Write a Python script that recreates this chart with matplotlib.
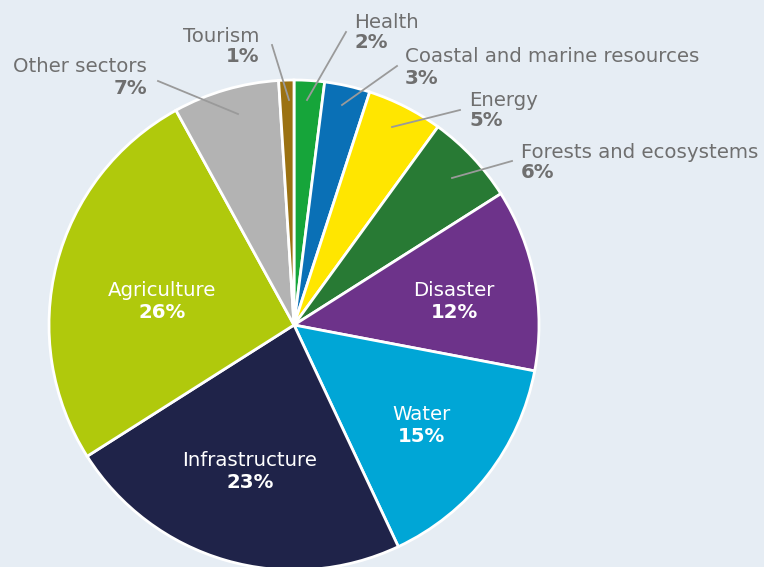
import matplotlib.pyplot as plt

# Share of adaptation finance by sector (%), clockwise from 12 o'clock
sectors = ['Health', 'Coastal and marine resources', 'Energy', 'Forests and ecosystems',
           'Disaster', 'Water', 'Infrastructure', 'Agriculture', 'Other sectors', 'Tourism']
shares = [2, 3, 5, 6, 12, 15, 23, 26, 7, 1]
colours = ['#16a53a', '#0a70b6', '#ffe600', '#287a34', '#6d338a',
           '#00a6d6', '#1f2349', '#b0c90c', '#b3b3b3', '#9b7212']

BG = '#e6edf4'
GREY_TXT = '#6f6f6f'
W, H = 764, 567
FS = 14.2

plt.rcParams['font.family'] = ['DejaVu Sans']

fig = plt.figure(figsize=(W / 100, H / 100), dpi=100)
fig.patch.set_facecolor(BG)
ax = fig.add_axes([0, 0, 1, 1])
ax.set_facecolor(BG)

cx, cy, r = 294, H - 325, 245
ax.pie(shares, colors=colours, startangle=90, counterclock=False,
       center=(cx, cy), radius=r, frame=True,
       wedgeprops=dict(edgecolor='white', linewidth=2))
ax.set_xlim(0, W)
ax.set_ylim(0, H)
ax.set_aspect('equal')
ax.axis('off')

# labels inside the big wedges (text x, y in pixels from top-left)
inside = {
    'Disaster': (454, 291),
    'Water': (421, 415),
    'Infrastructure': (250, 461),
    'Agriculture': (162, 290),
}
# outside labels: anchor, alignment, leader line start and end
outside = {
    'Tourism': ((259, 36), 'right', (272, 45), (289, 100)),
    'Health': ((354, 22), 'left', (346, 32), (307, 100)),
    'Coastal and marine resources': ((405, 57), 'left', (397, 66), (342, 105)),
    'Energy': ((469, 100), 'left', (460, 110), (392, 127)),
    'Forests and ecosystems': ((521, 152), 'left', (512, 161), (452, 178)),
    'Other sectors': ((147, 67), 'right', (158, 81), (238, 114)),
}

for name, share in zip(sectors, shares):
    pct = f'{share}%'
    if name in inside:
        x, y = inside[name]
        ax.text(x, H - y, name, color='white', fontsize=FS,
                ha='center', va='center')
        ax.text(x, H - y - 22, pct, color='white', fontsize=FS,
                fontweight='bold', ha='center', va='center')
    else:
        (x, y), ha, p0, p1 = outside[name]
        ax.plot([p0[0], p1[0]], [H - p0[1], H - p1[1]], color='#9a9a9a', lw=1.3)
        ax.text(x, H - y, name, color=GREY_TXT, fontsize=FS,
                ha=ha, va='center')
        ax.text(x, H - y - 21, pct, color=GREY_TXT, fontsize=FS,
                fontweight='bold', ha=ha, va='center')

fig.savefig('out.png', dpi=100, facecolor=BG)
